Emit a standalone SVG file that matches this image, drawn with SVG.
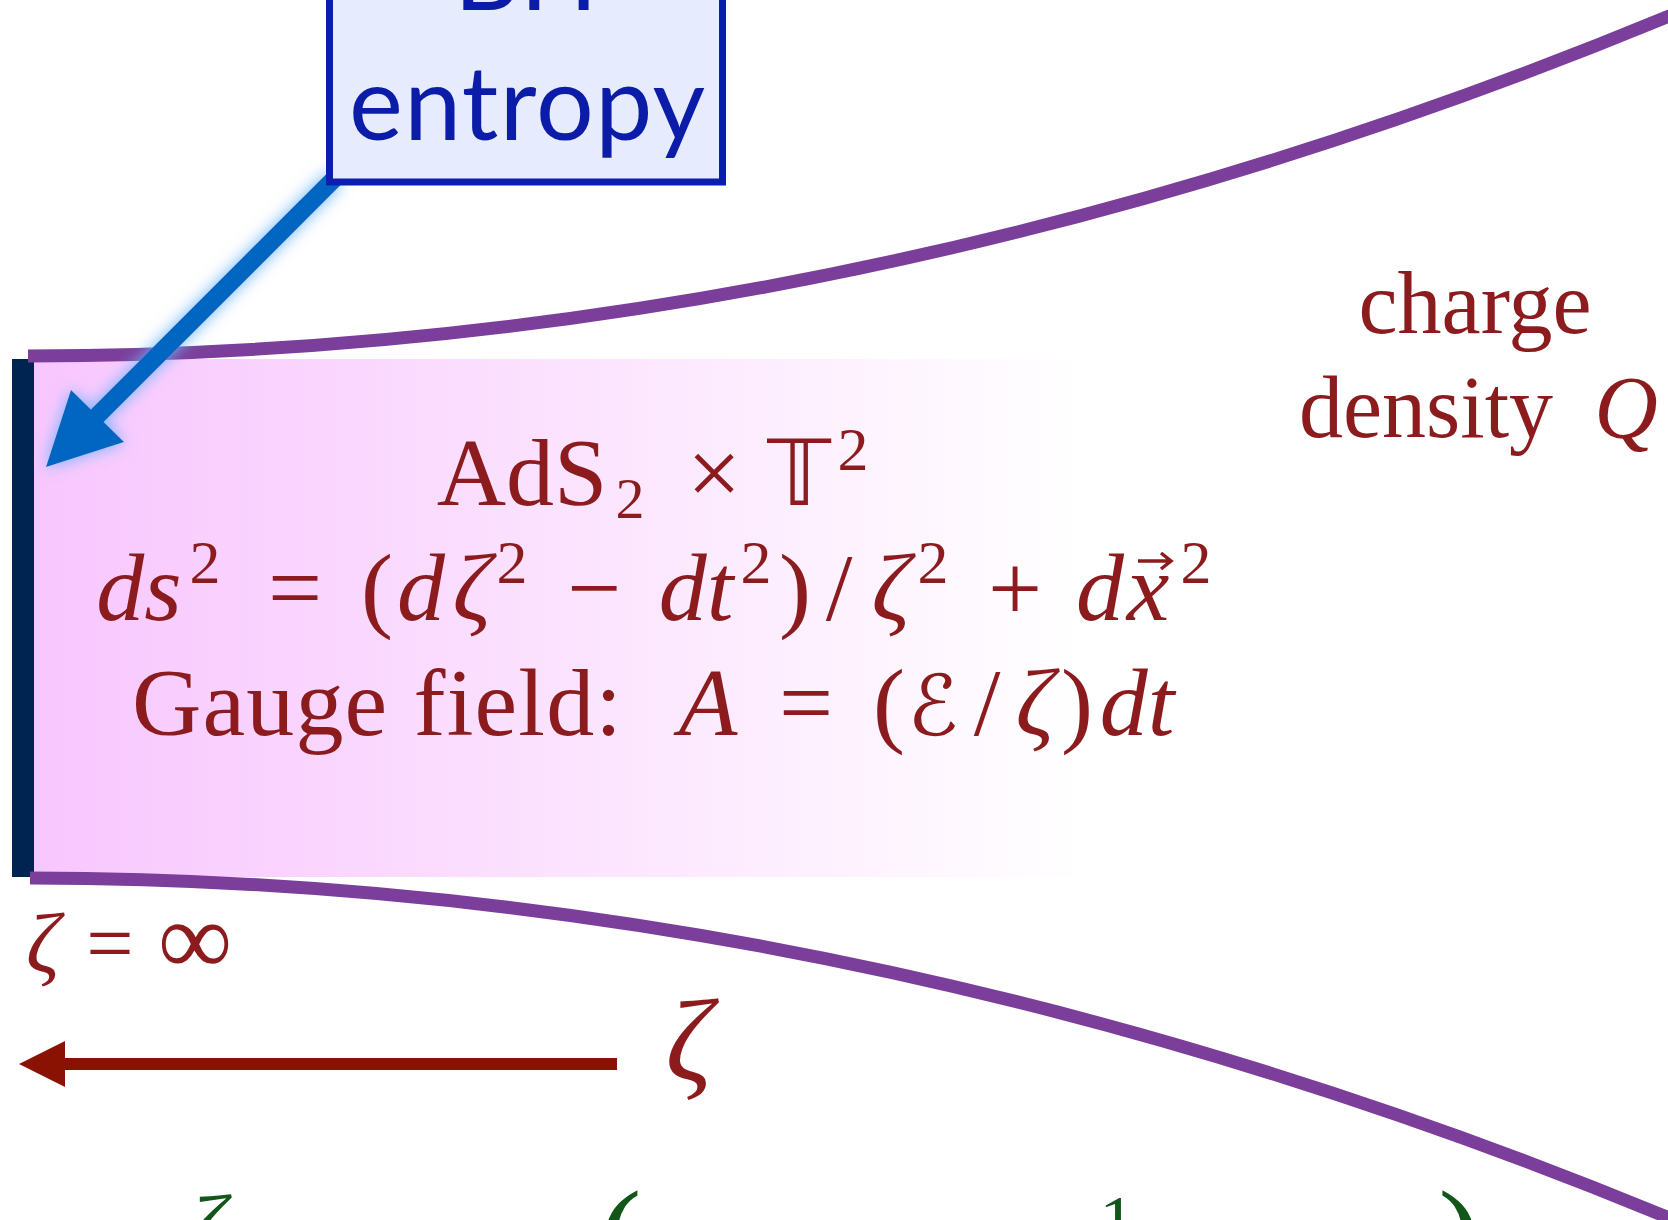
<svg xmlns="http://www.w3.org/2000/svg" width="1668" height="1220" viewBox="0 0 1668 1220">
<defs>
<linearGradient id="pinkfade" x1="34" y1="0" x2="1085" y2="0" gradientUnits="userSpaceOnUse">
<stop offset="0" stop-color="#f8c6fe"/>
<stop offset="1" stop-color="#ffffff"/>
</linearGradient>
<filter id="glow" x="-30%" y="-30%" width="160%" height="160%">
<feGaussianBlur in="SourceAlpha" stdDeviation="8" result="b"/>
<feFlood flood-color="#6cb4ff" flood-opacity="1"/>
<feComposite in2="b" operator="in" result="g"/>
<feMerge><feMergeNode in="g"/><feMergeNode in="SourceGraphic"/></feMerge>
</filter>
</defs>
<style>
.wall{fill:none;stroke:#7b3f9b;stroke-width:13;}
.red{fill:#8c1b1e;font-family:"Liberation Serif","DejaVu Serif",serif;text-anchor:middle;}
.green{fill:#12561a;font-family:"Liberation Serif","DejaVu Serif",serif;text-anchor:middle;}
.it{font-style:italic;}
.sym{font-family:"DejaVu Sans","DejaVu Serif",sans-serif;}
.blue{fill:#0a1ca8;font-family:Lato,"Open Sans","Liberation Sans",sans-serif;text-anchor:middle;}
</style>
<rect width="1668" height="1220" fill="#ffffff"/>

<g id="ads2-region">
<rect x="34" y="359" width="1051" height="518" fill="url(#pinkfade)"/>
<rect x="12" y="359" width="22" height="518" fill="#002451"/>
<text class="red" font-size="96">
<tspan x="522" y="505">AdS</tspan><tspan x="630" y="518" font-size="58">2</tspan><tspan x="714" y="505">×</tspan><tspan x="799" y="505" class="sym" font-size="90">𝕋</tspan><tspan x="853" y="470" font-size="62">2</tspan>
</text>
<text class="red" font-size="96">
<tspan x="139" y="620" class="it">ds</tspan><tspan x="205" y="583" font-size="62">2</tspan><tspan x="295" y="620">=</tspan><tspan x="377" y="620">(</tspan><tspan x="421" y="620" class="it">d</tspan><tspan x="472" y="620" class="it">ζ</tspan><tspan x="512" y="583" font-size="62">2</tspan><tspan x="594" y="620">−</tspan><tspan x="696" y="620" class="it">dt</tspan><tspan x="756" y="583" font-size="62">2</tspan><tspan x="795" y="620">)</tspan><tspan x="839" y="620">/</tspan><tspan x="891" y="620" class="it">ζ</tspan><tspan x="933" y="583" font-size="62">2</tspan><tspan x="1015" y="620">+</tspan><tspan x="1100" y="620" class="it">d</tspan><tspan x="1148" y="620" class="it">x</tspan><tspan x="1196" y="583" font-size="62">2</tspan>
</text>
<path d="M1138,561 H1170 M1161,553 L1171,561 L1161,569" fill="none" stroke="#8c1b1e" stroke-width="3.5"/>
<text class="red" font-size="96">
<tspan x="377" y="735" textLength="490">Gauge field:</tspan><tspan x="708" y="735" class="it">A</tspan><tspan x="806" y="735">=</tspan><tspan x="889" y="735">(</tspan><tspan x="933" y="735" class="sym" font-size="84">ℰ</tspan><tspan x="987" y="735">/</tspan><tspan x="1035" y="735" class="it">ζ</tspan><tspan x="1077" y="735">)</tspan><tspan x="1137" y="735" class="it">dt</tspan>
</text>
</g>

<g id="walls">
<path class="wall" d="M28,356 Q894,355 1760,-22.5"/>
<path class="wall" d="M30,878 Q894,879 1760,1256.5"/>
</g>

<g id="charge-density">
<text class="red" font-size="88"><tspan x="1475" y="333">charge</tspan><tspan x="1426" y="437">density</tspan><tspan x="1626" y="437" class="it">Q</tspan></text>
</g>

<g id="zeta-infinity">
<text class="red" font-size="84"><tspan x="43" y="972" class="it">ζ</tspan><tspan x="110" y="972">=</tspan><tspan x="195" y="974" font-size="104">∞</tspan></text>
</g>

<g id="connectors">
<g id="bh-arrow" filter="url(#glow)">
<line x1="335" y1="178" x2="92" y2="421" stroke="#0566c1" stroke-width="18"/>
<polygon points="46,467 71,390 124,442" fill="#0566c1"/>
</g>
<g id="zeta-arrow" fill="#8a1202">
<rect x="60" y="1058" width="557" height="12"/>
<polygon points="19,1064 65,1041 65,1087"/>
</g>
</g>

<g id="zeta-label">
<text class="red it" font-size="116" x="689" y="1080">ζ</text>
</g>

<g id="bh-entropy">
<rect x="329.5" y="-20" width="393" height="202" fill="#e6ebfd" stroke="#0a1fb0" stroke-width="7"/>
<text class="blue" font-size="102"><tspan x="526" y="10">BH</tspan><tspan x="527" y="140" textLength="356">entropy</tspan></text>
</g>

<g id="bottom-formula">
<text class="green" font-size="96"><tspan x="207" y="1261" class="it">ζ</tspan><tspan x="620" y="1280" font-size="130">(</tspan><tspan x="1117" y="1244" font-size="70">1</tspan><tspan x="1460" y="1280" font-size="130">)</tspan></text>
</g>
</svg>
